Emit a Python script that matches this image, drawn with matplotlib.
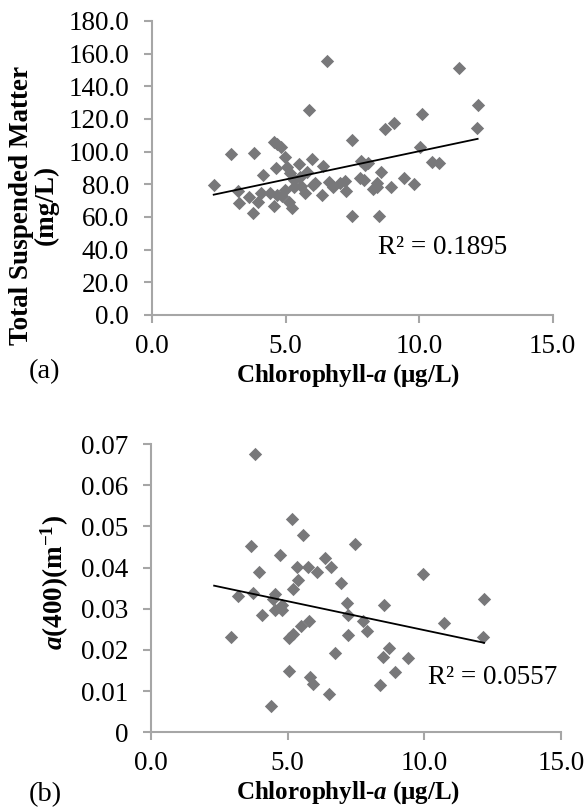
import numpy as np
import matplotlib
matplotlib.use("Agg")
import matplotlib.pyplot as plt

plt.rcParams['font.family'] = ['Liberation Serif', 'DejaVu Serif']
plt.rcParams['mathtext.fontset'] = 'custom'
plt.rcParams['mathtext.rm'] = 'Liberation Serif'
plt.rcParams['mathtext.it'] = 'Liberation Serif:italic'
plt.rcParams['mathtext.bf'] = 'Liberation Serif:bold'
plt.rcParams['mathtext.bfit'] = 'Liberation Serif:italic:bold'

# ---------------- data: panel (a) ----------------
chla_a = [2.31, 2.96, 3.22, 3.24, 3.64, 3.77, 3.83, 3.96, 4.14, 4.08,
          4.43, 4.58, 4.68, 4.83, 4.64, 4.55, 4.68, 4.86, 4.99, 5.05,
          5.12, 5.24, 4.99, 5.17, 5.32, 5.49, 5.55, 5.74, 5.80, 5.86,
          5.99, 6.02, 6.11, 6.36, 6.40, 6.55, 6.61, 6.77, 7.04, 7.21,
          7.27, 7.48, 7.48, 7.77, 7.83, 7.92, 7.98, 8.07, 8.27, 8.42,
          8.44, 8.57, 8.48, 8.73, 8.94, 9.06, 9.44, 9.79, 10.04, 10.09,
          10.50, 10.76, 11.51, 12.19, 12.17, 5.30, 5.57]
tsm_a = [79.4, 98.4, 76.1, 68.4, 72.0, 62.7, 99.0, 69.4, 85.7, 74.5,
         74.9, 106.1, 104.7, 103.1, 89.8, 66.9, 73.5, 72.9, 96.9, 90.8,
         69.4, 65.3, 76.5, 86.7, 78.6, 92.4, 84.7, 74.5, 87.8, 125.5,
         95.3, 79.6, 81.0, 73.5, 91.4, 155.5, 81.6, 78.6, 80.6, 82.2,
         76.1, 107.1, 60.6, 83.7, 94.3, 82.7, 91.8, 92.9, 76.9, 78.6,
         81.0, 87.3, 60.6, 114.1, 78.6, 117.8, 83.7, 80.0, 102.7, 122.9,
         93.9, 92.9, 151.0, 128.4, 114.7, 82.7, 79.0]
r2_a = "R² = 0.1895"

# ---------------- data: panel (b) ----------------
chla_b = [3.80, 5.15, 5.55, 3.65, 7.46, 4.72, 6.37, 3.95, 5.35, 5.76,
          6.06, 6.57, 9.96, 5.39, 5.21, 6.95, 3.20, 3.74, 4.54, 4.48,
          4.78, 4.54, 4.80, 4.07, 7.16, 8.54, 12.20, 7.22, 7.77, 7.89,
          10.73, 5.78, 5.48, 2.93, 5.06, 5.21, 7.22, 12.16, 6.73, 8.71,
          8.50, 9.41, 5.05, 8.93, 5.82, 5.94, 8.38, 6.52, 4.38]
a400_b = [0.0675, 0.0519, 0.0478, 0.0453, 0.0458, 0.0430, 0.0422, 0.0389, 0.0401, 0.0401,
          0.0389, 0.0401, 0.0384, 0.0369, 0.0349, 0.0363, 0.0330, 0.0338, 0.0337, 0.0324,
          0.0308, 0.0296, 0.0296, 0.0285, 0.0315, 0.0308, 0.0324, 0.0284, 0.0270, 0.0247,
          0.0266, 0.0270, 0.0257, 0.0231, 0.0230, 0.0239, 0.0237, 0.0231, 0.0192, 0.0205,
          0.0182, 0.0181, 0.0150, 0.0146, 0.0134, 0.0118, 0.0114, 0.0093, 0.0065]
r2_b = "R² = 0.0557"

x_ticks = [0, 5, 10, 15]
x_ticklabels = ["0.0", "5.0", "10.0", "15.0"]
ya_ticks = [0, 20, 40, 60, 80, 100, 120, 140, 160, 180]
ya_ticklabels = ["0.0", "20.0", "40.0", "60.0", "80.0", "100.0", "120.0", "140.0", "160.0", "180.0"]
yb_ticks = [0, 0.01, 0.02, 0.03, 0.04, 0.05, 0.06, 0.07]
yb_ticklabels = ["0", "0.01", "0.02", "0.03", "0.04", "0.05", "0.06", "0.07"]

MARK = '#78787a'
SPINE = '#a6a6a6'
FS = 19.5
LFS = 18

fig = plt.figure(figsize=(5.85, 8.08), dpi=100)
W, H = 585, 808

def style(ax):
    for s in ['top', 'right']:
        ax.spines[s].set_visible(False)
    for s in ['left', 'bottom']:
        ax.spines[s].set_color(SPINE)
        ax.spines[s].set_linewidth(1.5)
    ax.tick_params(axis='both', direction='out', length=5.5, width=1.5,
                   color=SPINE, labelsize=FS)
    ax.tick_params(axis='y', pad=11)
    ax.tick_params(axis='x', pad=8)

def trend(ax, x, y, xr):
    x = np.asarray(x); y = np.asarray(y)
    k, b = np.polyfit(x, y, 1)
    xs = np.array([min(xr), max(xr)])
    ax.plot(xs, k * xs + b, color='black', lw=1.3, zorder=3)

# panel (a)
ax1 = fig.add_axes([152 / W, 1 - 315 / H, (552.7 - 152) / W, 294 / H])
style(ax1)
ax1.scatter(chla_a, tsm_a, marker='D', s=46, color=MARK, linewidths=0, zorder=2)
trend(ax1, chla_a, tsm_a, chla_a)
ax1.set_xlim(0, 15); ax1.set_ylim(0, 180)
ax1.set_xticks(x_ticks); ax1.set_xticklabels(x_ticklabels)
ax1.set_yticks(ya_ticks); ax1.set_yticklabels(ya_ticklabels)
ax1.text(8.45, 41.5, r2_a, fontsize=FS, va='center', ha='left')
ax1.set_xlabel(r"Chlorophyll-$\mathbfit{a}$ (μg/L)", fontsize=LFS, fontweight='bold')
ax1.xaxis.set_label_coords((348 - 152) / (552.7 - 152), -(376 - 315) / 294)
ax1.xaxis.label.set_va('center')
ax1.set_ylabel("Total Suspended Matter\n(mg/L)", fontsize=FS, fontweight='bold',
               linespacing=0.95)
ax1.yaxis.set_label_coords(-(152 - 34) / (552.7 - 152), (315 - 205) / 294)
ax1.yaxis.label.set_va('center')
fig.text(45 / W, 1 - 372 / H, "(a)", fontsize=FS + 1, ha='center', va='center')

# panel (b) -- same samples, trendline spans the full chlorophyll range
ax2 = fig.add_axes([151 / W, 1 - 732.3 / H, (561 - 151) / W, (732.3 - 444) / H])
style(ax2)
ax2.scatter(chla_b, a400_b, marker='D', s=46, color=MARK, linewidths=0, zorder=2)
trend(ax2, chla_b, a400_b, chla_a)
ax2.set_xlim(0, 15); ax2.set_ylim(0, 0.07)
ax2.set_xticks(x_ticks); ax2.set_xticklabels(x_ticklabels)
ax2.set_yticks(yb_ticks); ax2.set_yticklabels(yb_ticklabels)
ax2.text(10.13, 0.0132, r2_b, fontsize=FS, va='center', ha='left')
ax2.set_xlabel(r"Chlorophyll-$\mathbfit{a}$ (μg/L)", fontsize=LFS, fontweight='bold')
ax2.xaxis.set_label_coords((348 - 151) / (561 - 151), -(793 - 732.3) / (732.3 - 444))
ax2.xaxis.label.set_va('center')
ax2.set_ylabel(r"$\mathbfit{a}$(400)(m$^{\mathbf{-1}}$)", fontsize=FS, fontweight='bold')
ax2.yaxis.set_label_coords(-(151 - 55) / (561 - 151), (732.3 - 582) / (732.3 - 444))
ax2.yaxis.label.set_va('center')
fig.text(45 / W, 1 - 795 / H, "(b)", fontsize=FS + 1, ha='center', va='center')

fig.savefig("out.png", dpi=100)
